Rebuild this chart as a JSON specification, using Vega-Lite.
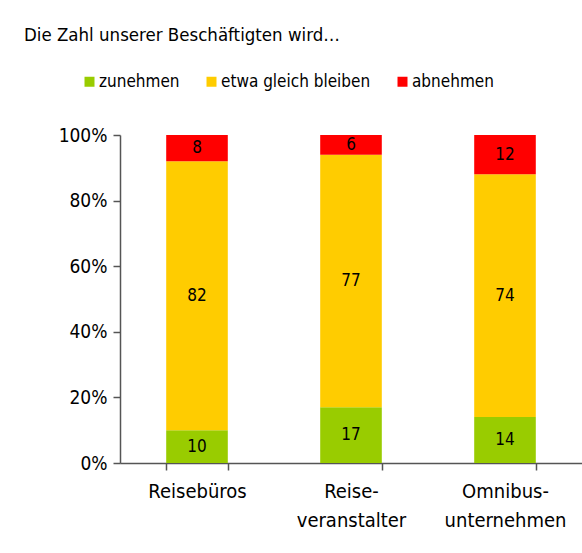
{
  "$schema": "https://vega.github.io/schema/vega-lite/v6.json",
  "autosize": "none",
  "width": 462,
  "height": 328,
  "padding": {"left": 120, "top": 135, "right": 0, "bottom": 90},
  "background": "white",
  "title": {
    "text": "Die Zahl unserer Beschäftigten wird…",
    "anchor": "start",
    "frame": "group",
    "dx": -96,
    "offset": 29,
    "font": "DejaVu Sans Condensed",
    "fontSize": 18.5,
    "fontWeight": "normal",
    "color": "#000000"
  },
  "config": {
    "font": "DejaVu Sans Condensed",
    "view": {"stroke": null}
  },
  "data": {
    "values": [
      {"kategorie": "Reisebüros", "antwort": "zunehmen", "wert": 10, "ord": 1},
      {"kategorie": "Reisebüros", "antwort": "etwa gleich bleiben", "wert": 82, "ord": 2},
      {"kategorie": "Reisebüros", "antwort": "abnehmen", "wert": 8, "ord": 3},
      {"kategorie": "Reise-\nveranstalter", "antwort": "zunehmen", "wert": 17, "ord": 1},
      {"kategorie": "Reise-\nveranstalter", "antwort": "etwa gleich bleiben", "wert": 77, "ord": 2},
      {"kategorie": "Reise-\nveranstalter", "antwort": "abnehmen", "wert": 6, "ord": 3},
      {"kategorie": "Omnibus-\nunternehmen", "antwort": "zunehmen", "wert": 14, "ord": 1},
      {"kategorie": "Omnibus-\nunternehmen", "antwort": "etwa gleich bleiben", "wert": 74, "ord": 2},
      {"kategorie": "Omnibus-\nunternehmen", "antwort": "abnehmen", "wert": 12, "ord": 3}
    ]
  },
  "encoding": {
    "x": {
      "field": "kategorie",
      "type": "nominal",
      "sort": null,
      "scale": {"paddingInner": 0.6, "paddingOuter": 0.3},
      "axis": {
        "title": null,
        "labelAngle": 0,
        "labelExpr": "split(datum.label, '\\n')",
        "labelFontSize": 20,
        "labelColor": "#000000",
        "labelLineHeight": 29,
        "labelPadding": 11,
        "labelBaseline": "top",
        "tickBand": "extent",
        "tickSize": 7,
        "tickColor": "#555555",
        "domainColor": "#555555",
        "domainWidth": 1.5,
        "tickWidth": 1.5
      }
    },
    "y": {
      "field": "wert",
      "type": "quantitative",
      "stack": "zero",
      "scale": {"domain": [0, 100], "nice": false},
      "axis": {
        "title": null,
        "values": [0, 20, 40, 60, 80, 100],
        "labelExpr": "datum.value + '%'",
        "labelFontSize": 19,
        "labelColor": "#000000",
        "labelPadding": 6,
        "grid": false,
        "tickSize": 7,
        "tickColor": "#555555",
        "domainColor": "#555555",
        "domainWidth": 1.5,
        "tickWidth": 1.5
      }
    },
    "order": {"field": "ord", "type": "quantitative"}
  },
  "layer": [
    {
      "mark": {"type": "bar"},
      "encoding": {
        "color": {
          "field": "antwort",
          "type": "nominal",
          "sort": ["zunehmen", "etwa gleich bleiben", "abnehmen"],
          "scale": {
            "domain": ["zunehmen", "etwa gleich bleiben", "abnehmen"],
            "range": ["#99CC00", "#FFCC00", "#FF0000"]
          },
          "legend": {
            "title": null,
            "orient": "none",
            "direction": "horizontal",
            "legendX": -39,
            "legendY": -62,
            "symbolType": "square",
            "symbolSize": 100,
            "symbolStrokeWidth": 0,
            "symbolOpacity": 1,
            "labelFontSize": 17,
            "labelColor": "#000000",
            "labelOffset": 1,
            "columnPadding": 23
          }
        }
      }
    },
    {
      "mark": {"type": "text", "fontSize": 17, "color": "#000000", "baseline": "middle"},
      "encoding": {
        "y": {"field": "wert", "type": "quantitative", "stack": "zero", "bandPosition": 0.5},
        "text": {"field": "wert", "type": "quantitative"}
      }
    }
  ]
}
